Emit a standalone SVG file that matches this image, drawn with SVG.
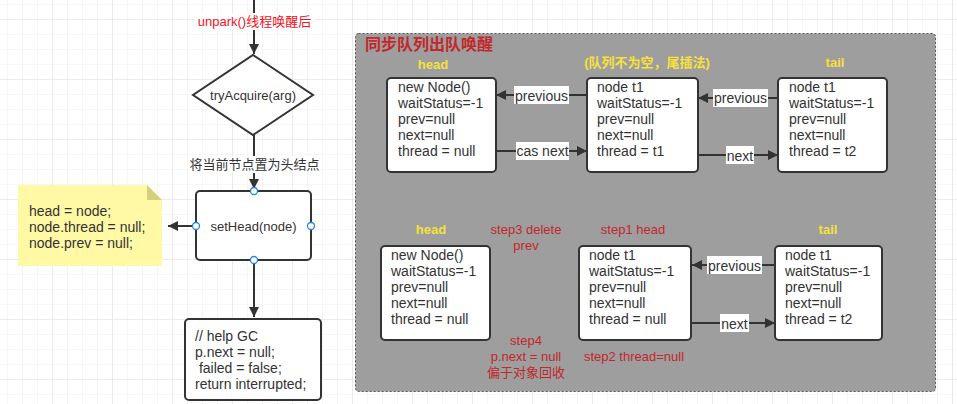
<svg xmlns="http://www.w3.org/2000/svg" width="957" height="404" viewBox="0 0 957 404">
<style>
text{font-family:"Liberation Sans","Noto Sans CJK SC",sans-serif;dominant-baseline:central}
.t13{font-size:13px;fill:#333}
.t14{font-size:14px;fill:#333}
.node{fill:#fff;stroke:#333;stroke-width:2}
.edge{fill:none;stroke:#333;stroke-width:2}
.red{font-size:13px;fill:#c3272b}
.yel{font-size:13px;fill:#f7e13b;font-weight:bold}
.lbl{fill:#fff}
.port{fill:#fff;stroke:#1e88e5;stroke-width:1.3}
</style>
<defs>
<pattern id="gmin" width="15" height="15" x="7" y="4" patternUnits="userSpaceOnUse">
<path d="M0,0V15M0,0H15" stroke="#efefef" stroke-width="1.2" fill="none"/>
</pattern>
<pattern id="gmaj" width="60" height="60" x="52" y="19" patternUnits="userSpaceOnUse">
<path d="M0,0V60M0,0H60" stroke="#e2e2e2" stroke-width="1.2" fill="none"/>
</pattern>
<marker id="arr" viewBox="0 0 10 10" refX="10" refY="5" markerWidth="5" markerHeight="5" orient="auto" markerUnits="strokeWidth">
<path d="M0,0L10,5L0,10z" fill="#333"/>
</marker>
</defs>
<rect width="957" height="404" fill="#fff"/>
<rect width="957" height="404" fill="url(#gmin)"/>
<rect width="957" height="404" fill="url(#gmaj)"/>

<g id="panel">
<rect x="355.5" y="33.5" width="580" height="358" rx="3" fill="#9e9e9e" stroke="#555" stroke-width="1" stroke-dasharray="2,2"/>
<text x="365" y="44" style="font-size:16px;font-weight:bold;fill:#c3272b">同步队列出队唤醒</text>
</g>

<g id="connectors">
<path class="edge" d="M254,0V54" marker-end="url(#arr)"/>
<rect class="lbl" x="195" y="13" width="119" height="17"/>
<text x="254.5" y="21.5" text-anchor="middle" style="font-size:13px;fill:#f5111d">unpark()线程唤醒后</text>
<path class="edge" d="M254,135V189" marker-end="url(#arr)"/>
<rect class="lbl" x="189" y="156" width="131" height="17"/>
<text x="254.5" y="164.5" text-anchor="middle" class="t13">将当前节点置为头结点</text>
<path class="edge" d="M196,226H168" marker-end="url(#arr)"/>
<path class="edge" d="M254,260V317" marker-end="url(#arr)"/>

<path class="edge" d="M587,95H496" marker-end="url(#arr)"/>
<rect class="lbl" x="514" y="86" width="55" height="18"/>
<text x="541.5" y="95.5" text-anchor="middle" class="t14">previous</text>
<path class="edge" d="M496,151H587" marker-end="url(#arr)"/>
<rect class="lbl" x="516" y="142" width="53" height="18"/>
<text x="542.5" y="150.5" text-anchor="middle" class="t14">cas next</text>
<path class="edge" d="M778,98H698" marker-end="url(#arr)"/>
<rect class="lbl" x="713" y="89" width="55" height="18"/>
<text x="740.5" y="97.5" text-anchor="middle" class="t14">previous</text>
<path class="edge" d="M698,155H778" marker-end="url(#arr)"/>
<rect class="lbl" x="726" y="146" width="28" height="18"/>
<text x="740" y="155.5" text-anchor="middle" class="t14">next</text>

<path class="edge" d="M775,265H692" marker-end="url(#arr)"/>
<rect class="lbl" x="707" y="256" width="55" height="18"/>
<text x="734.5" y="265.5" text-anchor="middle" class="t14">previous</text>
<path class="edge" d="M692,323H775" marker-end="url(#arr)"/>
<rect class="lbl" x="720" y="314" width="29" height="18"/>
<text x="734.5" y="323.5" text-anchor="middle" class="t14">next</text>
</g>

<g id="tryAcquire">
<path class="node" d="M253,55L313,95L253,135L193,95Z"/>
<text x="253" y="95.5" text-anchor="middle" class="t13">tryAcquire(arg)</text>
</g>

<g id="setHead">
<rect class="node" x="196" y="191" width="115" height="69" rx="4"/>
<text x="253.5" y="226" text-anchor="middle" class="t13">setHead(node)</text>
<circle class="port" cx="254" cy="191" r="3.5"/>
<circle class="port" cx="196" cy="226" r="3.5"/>
<circle class="port" cx="311" cy="226" r="3.5"/>
<circle class="port" cx="254" cy="260" r="3.5"/>
</g>

<g id="note">
<path d="M18,185H147L162,200V266H18Z" fill="#fff9a6"/>
<path d="M147,185L162,200H147Z" fill="#d5d07e"/>
<text x="29" y="210.5" class="t14">head = node;</text>
<text x="29" y="226.5" class="t14">node.thread = null;</text>
<text x="29" y="242.5" class="t14">node.prev = null;</text>
</g>

<g id="helpGC">
<rect class="node" x="185" y="319" width="136" height="81" rx="4"/>
<text x="195" y="336" class="t14">// help GC</text>
<text x="195" y="352" class="t14">p.next = null;</text>
<text x="195" y="368" class="t14" xml:space="preserve"> failed = false;</text>
<text x="195" y="384" class="t14">return interrupted;</text>
</g>

<g id="topHead">
<text x="433" y="64" text-anchor="middle" class="yel">head</text>
<rect class="node" x="387" y="78" width="109" height="94" rx="4"/>
<text x="398" y="87" class="t14">new Node()</text>
<text x="398" y="103" class="t14">waitStatus=-1</text>
<text x="398" y="119" class="t14">prev=null</text>
<text x="398" y="135" class="t14">next=null</text>
<text x="398" y="151" class="t14">thread = null</text>
</g>

<g id="topT1">
<text x="647" y="62" text-anchor="middle" class="yel">(队列不为空，尾插法)</text>
<rect class="node" x="587" y="78" width="111" height="94" rx="4"/>
<text x="597" y="87" class="t14">node t1</text>
<text x="597" y="103" class="t14">waitStatus=-1</text>
<text x="597" y="119" class="t14">prev=null</text>
<text x="597" y="135" class="t14">next=null</text>
<text x="597" y="151" class="t14">thread = t1</text>
</g>

<g id="topTail">
<text x="835" y="62" text-anchor="middle" class="yel">tail</text>
<rect class="node" x="778" y="78" width="109" height="94" rx="4"/>
<text x="789" y="87" class="t14">node t1</text>
<text x="789" y="103" class="t14">waitStatus=-1</text>
<text x="789" y="119" class="t14">prev=null</text>
<text x="789" y="135" class="t14">next=null</text>
<text x="789" y="151" class="t14">thread = t2</text>
</g>

<g id="botHead">
<text x="431" y="229" text-anchor="middle" class="yel">head</text>
<rect class="node" x="381" y="246" width="109" height="94" rx="4"/>
<text x="391" y="255" class="t14">new Node()</text>
<text x="391" y="271" class="t14">waitStatus=-1</text>
<text x="391" y="287" class="t14">prev=null</text>
<text x="391" y="303" class="t14">next=null</text>
<text x="391" y="319" class="t14">thread = null</text>
</g>

<g id="steps">
<text x="526" y="229" text-anchor="middle" class="red">step3 delete</text>
<text x="526" y="245" text-anchor="middle" class="red">prev</text>
<text x="526" y="340.5" text-anchor="middle" class="red">step4</text>
<text x="526" y="356" text-anchor="middle" class="red">p.next = null</text>
<text x="526" y="372" text-anchor="middle" class="red">偏于对象回收</text>
<text x="633" y="229" text-anchor="middle" class="red">step1 head</text>
<text x="634" y="356.5" text-anchor="middle" class="red">step2 thread=null</text>
</g>

<g id="botT1">
<rect class="node" x="579" y="246" width="112" height="94" rx="4"/>
<text x="589" y="255" class="t14">node t1</text>
<text x="589" y="271" class="t14">waitStatus=-1</text>
<text x="589" y="287" class="t14">prev=null</text>
<text x="589" y="303" class="t14">next=null</text>
<text x="589" y="319" class="t14">thread = null</text>
</g>

<g id="botTail">
<text x="828" y="229" text-anchor="middle" class="yel">tail</text>
<rect class="node" x="775" y="246" width="107" height="94" rx="4"/>
<text x="785" y="255" class="t14">node t1</text>
<text x="785" y="271" class="t14">waitStatus=-1</text>
<text x="785" y="287" class="t14">prev=null</text>
<text x="785" y="303" class="t14">next=null</text>
<text x="785" y="319" class="t14">thread = t2</text>
</g>
</svg>
